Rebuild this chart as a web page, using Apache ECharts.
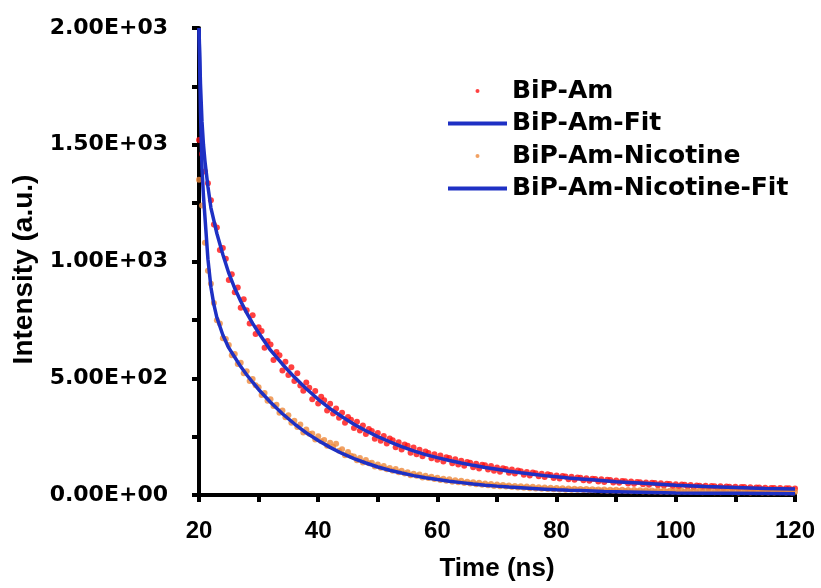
<!DOCTYPE html>
<html>
<head>
    <meta charset="utf-8">
    <title>BiP-Am lifetime decay</title>
    <script src="https://cdn.jsdelivr.net/npm/echarts@6/dist/echarts.min.js"></script>
    <style>
        html, body { margin: 0; padding: 0; background: #fff; }
        #charts { width: 821px; height: 588px; }
    </style>
</head>
<body>
<div id="charts"></div>
<script>
    // time channels (ns)
    var timeNs = [
        20, 20.5, 21, 21.5, 22, 22.5, 23, 23.5, 24, 24.5, 25, 25.5, 26, 26.5, 27, 27.5, 28, 28.5, 29, 29.5,
        30, 30.5, 31, 31.5, 32, 32.5, 33, 33.5, 34, 34.5, 35, 35.5, 36, 36.5, 37, 37.5, 38, 38.5, 39, 39.5,
        40, 40.5, 41, 41.5, 42, 42.5, 43, 43.5, 44, 44.5, 45, 45.5, 46, 46.5, 47, 47.5, 48, 48.5, 49, 49.5,
        50, 50.5, 51, 51.5, 52, 52.5, 53, 53.5, 54, 54.5, 55, 55.5, 56, 56.5, 57, 57.5, 58, 58.5, 59, 59.5,
        60, 60.5, 61, 61.5, 62, 62.5, 63, 63.5, 64, 64.5, 65, 65.5, 66, 66.5, 67, 67.5, 68, 68.5, 69, 69.5,
        70, 70.5, 71, 71.5, 72, 72.5, 73, 73.5, 74, 74.5, 75, 75.5, 76, 76.5, 77, 77.5, 78, 78.5, 79, 79.5,
        80, 80.5, 81, 81.5, 82, 82.5, 83, 83.5, 84, 84.5, 85, 85.5, 86, 86.5, 87, 87.5, 88, 88.5, 89, 89.5,
        90, 90.5, 91, 91.5, 92, 92.5, 93, 93.5, 94, 94.5, 95, 95.5, 96, 96.5, 97, 97.5, 98, 98.5, 99, 99.5,
        100, 100.5, 101, 101.5, 102, 102.5, 103, 103.5, 104, 104.5, 105, 105.5, 106, 106.5, 107, 107.5, 108, 108.5, 109, 109.5,
        110, 110.5, 111, 111.5, 112, 112.5, 113, 113.5, 114, 114.5, 115, 115.5, 116, 116.5, 117, 117.5, 118, 118.5, 119, 119.5,
        120
    ];

    // BiP-Am measured counts
    var amData = [
        1520, 1460, 1385, 1335, 1262, 1158, 1146, 1049, 1058, 1012, 921, 945, 868, 889, 802, 838, 791, 735, 770, 690,
        718, 702, 631, 660, 645, 578, 612, 598, 533, 571, 514, 547, 488, 521, 469, 446, 482, 459, 410, 445,
        392, 421, 406, 362, 391, 349, 370, 331, 352, 309, 334, 322, 287, 314, 276, 298, 261, 283, 274, 241,
        266, 232, 253, 221, 242, 234, 205, 226, 195, 216, 211, 181, 203, 174, 194, 166, 186, 180, 157, 174,
        151, 169, 143, 162, 158, 136, 153, 131, 147, 125, 141, 138, 119, 134, 113, 130, 127, 109, 124, 104,
        118, 100, 115, 111, 95, 109, 92, 105, 102, 87, 99, 84, 96, 93, 80, 91, 77, 89, 86, 73,
        84, 71, 81, 79, 67, 78, 65, 75, 74, 63, 72, 61, 70, 69, 58, 67, 56, 65, 64, 53,
        62, 52, 60, 59, 49, 58, 48, 56, 55, 46, 54, 44, 52, 51, 42, 50, 41, 48, 47, 39,
        46, 38, 45, 44, 36, 43, 34, 41, 40, 33, 40, 31, 39, 38, 30, 37, 29, 36, 35, 28,
        35, 27, 34, 34, 26, 33, 25, 32, 32, 24, 31, 24, 30, 30, 23, 30, 22, 29, 29, 23,
        28
    ];

    // BiP-Am-Nicotine measured counts
    var nicData = [
        1350, 1240, 1080, 960, 905, 822, 748, 735, 671, 668, 642, 598, 604, 561, 566, 521, 530, 488, 497, 470,
        461, 428, 437, 404, 410, 381, 386, 352, 362, 333, 342, 309, 318, 291, 302, 268, 281, 262, 263, 238,
        252, 230, 236, 211, 224, 207, 219, 189, 196, 170, 184, 168, 165, 149, 158, 139, 150, 136, 138, 122,
        131, 117, 124, 110, 116, 104, 111, 97, 104, 92, 97, 85, 91, 82, 88, 75, 82, 73, 78, 68,
        74, 64, 70, 61, 67, 57, 63, 55, 61, 51, 57, 49, 55, 46, 52, 44, 49, 42, 47, 39,
        45, 37, 43, 36, 41, 34, 39, 32, 37, 31, 36, 29, 35, 28, 33, 27, 32, 26, 31, 25,
        30, 24, 29, 23, 28, 22, 27, 22, 26, 21, 26, 20, 25, 20, 24, 19, 24, 18, 23, 18,
        23, 17, 22, 17, 21, 16, 21, 16, 20, 15, 20, 15, 19, 15, 19, 14, 19, 14, 18, 14,
        18, 13, 18, 14, 17, 13, 17, 13, 18, 12, 17, 13, 16, 12, 17, 12, 16, 13, 16, 12,
        16, 11, 15, 12, 16, 11, 15, 12, 15, 11, 16, 11, 15, 11, 14, 12, 15, 11, 14, 11,
        14
    ];

    // fitted curves
    var fitTime = [20, 20.25, 20.5, 20.75, 21, 21.5, 22, 22.5, 23, 24, 25, 26, 27, 28, 29, 30, 32, 34, 36, 38,
        40, 42, 44, 46, 48, 50, 52, 54, 56, 58, 60, 62, 64, 66, 68, 70, 72, 74, 76, 78,
        80, 82, 84, 86, 88, 90, 92, 94, 96, 98, 100, 105, 110, 115, 120];
    var amFit = [2000, 1760, 1600, 1500, 1430, 1320, 1230, 1175, 1120, 1030, 950, 885, 830, 780, 735, 695, 620, 560, 505, 455,
        410, 370, 335, 303, 275, 250, 228, 207, 189, 173, 160, 148, 137, 127, 118, 110, 102, 95, 89, 83,
        78, 73, 69, 65, 61, 57, 54, 51, 48, 45, 42, 36, 32, 28, 26];
    var nicFit = [2000, 1640, 1400, 1280, 1190, 1010, 890, 815, 760, 685, 630, 590, 550, 515, 483, 452, 397, 348, 305, 266,
        233, 204, 178, 156, 137, 120, 106, 94, 83, 74, 66, 59, 53, 47, 42, 38, 34, 31, 28, 25,
        22, 20, 19, 17, 15, 14, 13, 12, 11, 10, 9, 8, 7, 6, 5];

    function pairs(xs, ys) {
        var out = [];
        for (var i = 0; i < xs.length; i++) {
            out.push([xs[i], ys[i]]);
        }
        return out;
    }

    var myChart = echarts.init(document.getElementById('charts'));

    var arial = 'Liberation Sans, Arial, sans-serif';
    var dejavu = 'DejaVu Sans, sans-serif';
    var blue = '#1e30c4';

    var axisLine = {show: true, onZero: false, lineStyle: {color: '#000', width: 4}};
    var axisTick = {show: true, inside: false, length: 7, lineStyle: {color: '#000', width: 4}};
    var minorTick = {show: true, splitNumber: 2, length: 7, lineStyle: {color: '#000', width: 4}};

    var option = {
        animation: false,
        backgroundColor: '#fff',
        grid: {left: 199, right: 26, top: 28, bottom: 93},
        legend: {
            orient: 'vertical',
            left: 443,
            top: 71,
            itemWidth: 59,
            itemHeight: 4,
            itemGap: 2.5,
            textStyle: {fontFamily: dejavu, fontWeight: 'bold', fontSize: 25, lineHeight: 30, color: '#000'},
            data: [
                {name: 'BiP-Am', icon: 'circle'},
                {name: 'BiP-Am-Fit', icon: 'rect'},
                {name: 'BiP-Am-Nicotine', icon: 'circle'},
                {name: 'BiP-Am-Nicotine-Fit', icon: 'rect'}
            ]
        },
        xAxis: {
            type: 'value',
            min: 20,
            max: 120,
            interval: 20,
            name: 'Time (ns)',
            nameLocation: 'middle',
            nameGap: 61,
            nameTextStyle: {fontFamily: arial, fontWeight: 'bold', fontSize: 26, color: '#000'},
            axisLine: axisLine,
            axisTick: axisTick,
            minorTick: minorTick,
            splitLine: {show: false},
            axisLabel: {margin: 24, fontFamily: arial, fontWeight: 'bold', fontSize: 24, color: '#000'}
        },
        yAxis: {
            type: 'value',
            min: 0,
            max: 2000,
            interval: 500,
            name: 'Intensity (a.u.)',
            nameLocation: 'middle',
            nameGap: 157,
            nameTextStyle: {fontFamily: arial, fontWeight: 'bold', fontSize: 28, color: '#000', padding: [0, 16, 0, 0]},
            axisLine: axisLine,
            axisTick: axisTick,
            minorTick: minorTick,
            splitLine: {show: false},
            axisLabel: {
                margin: 31,
                fontFamily: dejavu,
                fontWeight: 'bold',
                fontSize: 22,
                color: '#000',
                formatter: function (v) {
                    var s = v.toExponential(2).toUpperCase();
                    // 2.00E+3 -> 2.00E+03
                    return s.replace(/E([+-])(\d)$/, 'E$10$2');
                }
            }
        },
        series: [
            {
                name: 'BiP-Am',
                type: 'scatter',
                symbolSize: 6,
                itemStyle: {color: '#ff1010'},
                emphasis: {disabled: true},
                data: pairs(timeNs, amData),
                z: 2
            },
            {
                name: 'BiP-Am-Fit',
                type: 'line',
                symbol: 'none',
                lineStyle: {color: blue, width: 3.5},
                itemStyle: {color: blue},
                emphasis: {disabled: true},
                data: pairs(fitTime, amFit),
                z: 4
            },
            {
                name: 'BiP-Am-Nicotine',
                type: 'scatter',
                symbolSize: 6,
                itemStyle: {color: '#ee8a3c'},
                emphasis: {disabled: true},
                data: pairs(timeNs, nicData),
                z: 3
            },
            {
                name: 'BiP-Am-Nicotine-Fit',
                type: 'line',
                symbol: 'none',
                lineStyle: {color: blue, width: 3.5},
                itemStyle: {color: blue},
                emphasis: {disabled: true},
                data: pairs(fitTime, nicFit),
                z: 5
            }
        ]
    };
    myChart.setOption(option);
</script>
</body>
</html>
